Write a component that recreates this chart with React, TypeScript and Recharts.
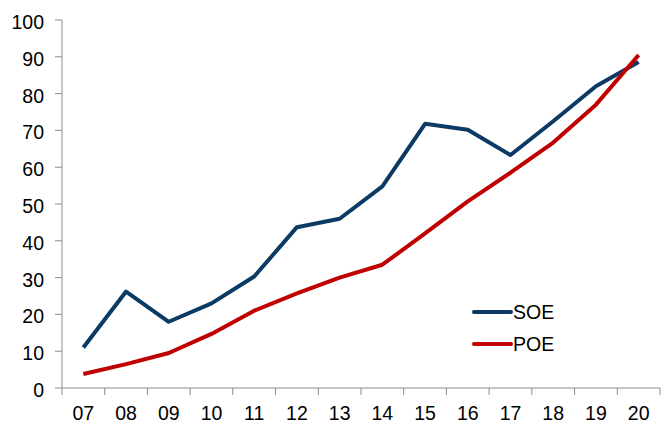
import React from "react";
import { Line, LineChart, XAxis, YAxis } from "recharts";

const years = ["07", "08", "09", "10", "11", "12", "13", "14", "15", "16", "17", "18", "19", "20"];
const soe = [11, 26.2, 18, 23, 30.3, 43.7, 46, 54.8, 71.8, 70.2, 63.3, 72.5, 82, 88.6];
const poe = [3.8, 6.5, 9.5, 14.7, 21, 25.7, 30, 33.5, 42, 50.7, 58.5, 66.7, 77, 90.5];
const yTicks = [0, 10, 20, 30, 40, 50, 60, 70, 80, 90, 100];

const data = years.map((year, i) => ({ year, SOE: soe[i], POE: poe[i] }));

const FONT = "'Liberation Sans', Arial, sans-serif";
const FONT_SIZE = 19.5;
const AXIS = "#8c8c8c";
const HALF_BAND = 598 / years.length / 2;

const XTick = (props: any) => {
  const { x, payload, index } = props;
  return (
    <g>
      <line x1={x - HALF_BAND} x2={x - HALF_BAND} y1={388} y2={395} stroke={AXIS} />
      {index === years.length - 1 && (
        <line x1={x + HALF_BAND} x2={x + HALF_BAND} y1={388} y2={395} stroke={AXIS} />
      )}
      <text x={x} y={406} dy="0.71em" textAnchor="middle" fill="#000" fontSize={FONT_SIZE} fontFamily={FONT}>
        {payload.value}
      </text>
    </g>
  );
};

const series = [
  { name: "SOE", color: "#0b3a64" },
  { name: "POE", color: "#c00000" },
];

export default function App() {
  return (
    <div style={{ position: "absolute", left: 0, top: 0, background: "#fff" }}>
      <LineChart width={661} height={423} data={data} margin={{ top: 20, right: 1, left: 0, bottom: 0 }}>
        <XAxis
          dataKey="year"
          height={35}
          padding={{ left: HALF_BAND, right: HALF_BAND }}
          stroke={AXIS}
          tickLine={false}
          interval={0}
          tick={<XTick />}
        />
        <YAxis
          width={62}
          domain={[0, 100]}
          ticks={yTicks}
          stroke={AXIS}
          tickSize={7}
          tickMargin={11}
          tick={{ fill: "#000", fontSize: FONT_SIZE, fontFamily: FONT, dy: 2 }}
        />
        <Line
          dataKey="SOE"
          stroke="#0b3a64"
          strokeWidth={4}
          dot={false}
          activeDot={false}
          strokeLinejoin="round"
          isAnimationActive={false}
        />
        <Line
          dataKey="POE"
          stroke="#c00000"
          strokeWidth={4}
          dot={false}
          activeDot={false}
          strokeLinejoin="round"
          isAnimationActive={false}
        />
      </LineChart>
      <div style={{ position: "absolute", left: 472, top: 296, fontFamily: FONT, fontSize: FONT_SIZE, color: "#000" }}>
        {series.map((s) => (
          <div key={s.name} style={{ display: "flex", alignItems: "center", height: 32 }}>
            <svg width={41} height={6}>
              <line x1={2} x2={39} y1={3} y2={3} stroke={s.color} strokeWidth={4} strokeLinecap="round" />
            </svg>
            <span>{s.name}</span>
          </div>
        ))}
      </div>
    </div>
  );
}
